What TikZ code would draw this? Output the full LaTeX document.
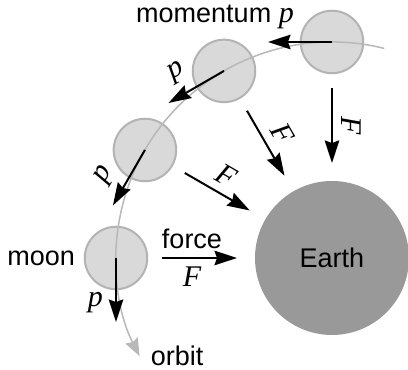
\documentclass[tikz,border=0pt]{standalone}
\usepackage{fontspec}
\setmainfont{Liberation Sans}
\newfontfamily\serifit{Liberation Serif}
\usetikzlibrary{arrows.meta}

\definecolor{moonfill}{HTML}{D9D9D9}
\definecolor{moonedge}{HTML}{B3B3B3}
\definecolor{earthfill}{HTML}{999999}
\definecolor{orbitgray}{HTML}{B8B8B8}

\newcommand{\vsym}[1]{{\serifit\itshape\fontsize{12}{14}\selectfont #1}}

\begin{document}
\begin{tikzpicture}[x=0.4pt, y=0.4pt,
  font=\fontsize{10.8}{13}\selectfont,
  >={Stealth[length=9pt,width=5.8pt,inset=1pt]},
  moon/.style={circle, draw=moonedge, fill=moonfill, line width=0.8pt,
    minimum size=25pt, inner sep=0pt},
  planet/.style={circle, fill=earthfill, minimum size=61.6pt, inner sep=0pt},
  vec/.style={->, line width=0.8pt},
  orbitline/.style={draw=orbitgray, line width=0.6pt,
    -{Stealth[length=7pt,width=5.5pt,inset=0.8pt]}}]
  \useasboundingbox (-332,-112) rectangle (76,258);

  % Earth
  \node[planet] (earth) at (0,0) {Earth};

  % moons
  \foreach \a/\n in {90/1,120/2,150/3,180/4}
    \node[moon] (moon\n) at (\a:216) {};

  % orbit
  \draw[orbitline] (76:216) arc[start angle=76,end angle=207,radius=216]
    coordinate (orbitend);
  \node[right=1pt] (orbitlbl) at (orbitend) {orbit};
  \node[left] (moonlbl) at (moon4.west) {moon};

  % momentum
  \draw[vec] (moon1.center) -- ++(-64,0) coordinate (tip1);
  \node (p1) at (-117,241) {momentum \vsym{p}};
  \draw[vec] (moon2.center) -- ++(210:64) coordinate (tip2)
    node[pos=0.65, sloped, above, yshift=1pt] (p2) {\vsym{p}};
  \draw[vec] (moon3.center) -- ++(240:64) coordinate (tip3)
    node[pos=0.65, sloped, above, yshift=1pt] (p3) {\vsym{p}};
  \draw[vec] (moon4.center) -- ++(0,-64) coordinate (tip4)
    node[pos=0.69, left, xshift=-1.5pt] (p4) {\vsym{p}};

  % force
  \foreach \a/\n in {90/1,120/2,150/3}{
    \coordinate (fs\n) at (\a:170);
    \coordinate (fe\n) at (\a:95);
    \draw[vec] (fs\n) -- (fe\n) node[midway, sloped, above] (f\n) {\vsym{F}};
  }
  \coordinate (fs4) at (180:170);
  \coordinate (fe4) at (180:95);
  \draw[vec] (fs4) -- (fe4)
    node[pos=0.4, above] (force) {force}
    node[pos=0.4, below] (f4) {\vsym{F}};
\end{tikzpicture}
\end{document}
